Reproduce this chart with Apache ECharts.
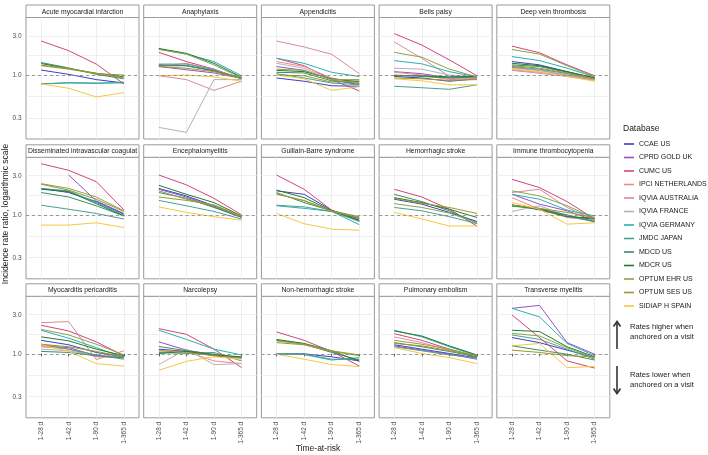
<!DOCTYPE html>
<html>
<head>
<meta charset="utf-8">
<script src="https://cdn.jsdelivr.net/npm/echarts@6/dist/echarts.min.js"></script>
<style>
  html, body { margin: 0; padding: 0; background: #fff; }
  #chart { width: 708px; height: 455px; }
</style>
</head>
<body>
<div id="chart"></div>
<script>
const databases = ['CCAE US', 'CPRD GOLD UK', 'CUMC US', 'IPCI NETHERLANDS', 'IQVIA AUSTRALIA', 'IQVIA FRANCE',
  'IQVIA GERMANY', 'JMDC JAPAN', 'MDCD US', 'MDCR US', 'OPTUM EHR US', 'OPTUM SES US', 'SIDIAP H SPAIN'];
const dbColors = ['#3b3fc4', '#9a4fc8', '#d1457e', '#f4868c', '#d88c95', '#b3b3b3',
  '#2aafb5', '#4ba08e', '#3a8f5f', '#247a2c', '#8ba24a', '#a0952a', '#f5c842'];
const timeLabels = ['1-28 d', '1-42 d', '1-90 d', '1-365 d'];
const panelTitles = ['Acute myocardial infarction', 'Anaphylaxis', 'Appendicitis', 'Bells palsy', 'Deep vein thrombosis',
  'Disseminated intravascular coagulation', 'Encephalomyelitis', 'Guillain-Barre syndrome', 'Hemorrhagic stroke', 'Immune thrombocytopenia',
  'Myocarditis pericarditis', 'Narcolepsy', 'Non-hemorrhagic stroke', 'Pulmonary embolism', 'Transverse myelitis'];
const yBreaks = [0.3, 1.0, 3.0];
const refRatio = 1;

// one row per database (legend order), null = not in panel
const acuteMI = [
  [1.15, 1.02, 0.88, 0.8], null, [2.6, 1.98, 1.36, 0.78], null, null, null,
  [0.78, 0.81, 0.8, 0.8], [0.78, 0.8, 0.79, 0.82], [1.42, 1.22, 1.02, 0.9], [1.38, 1.2, 1.05, 0.95],
  [1.32, 1.2, 1.05, 0.92], [1.3, 1.18, 1.04, 1.0], [0.78, 0.69, 0.54, 0.61]
];
const anaphylaxis = [
  [1.3, 1.3, 1.13, 0.92], [1.27, 1.16, 1.06, 0.91], [1.89, 1.46, 1.18, 0.9], [1.27, 1.39, 1.16, 0.92],
  [0.98, 0.88, 0.65, 0.84], [0.23, 0.2, 0.88, 0.88], [2.07, 1.8, 1.46, 0.98], [1.36, 1.36, 1.16, 0.9],
  [1.33, 1.3, 1.12, 0.91], [2.11, 1.84, 1.39, 0.94], [2.05, 1.8, 1.33, 0.92], [1.27, 1.21, 1.1, 0.91],
  [0.98, 1.0, 0.95, 0.84]
];
const appendicitis = [
  [0.92, 0.84, 0.74, 0.73], [1.27, 1.14, 0.88, 0.76], [1.6, 1.3, 0.88, 0.64], [1.46, 1.27, 0.92, 0.8],
  [2.6, 2.2, 1.79, 1.04], [1.39, 1.21, 0.88, 0.82], [1.6, 1.39, 1.08, 0.96], [1.04, 0.92, 0.8, 0.76],
  [1.08, 1.06, 0.85, 0.79], [1.14, 1.1, 0.9, 0.83], [1.18, 1.14, 0.88, 0.88], [1.0, 0.98, 0.82, 0.85],
  [1.0, 0.9, 0.65, 0.72]
];
const bellsPalsy = [
  [0.96, 0.92, 0.84, 0.9], [1.1, 1.04, 0.92, 0.92], [3.2, 2.32, 1.53, 0.98], [1.08, 1.0, 0.88, 0.9],
  [2.54, 1.6, 0.96, 0.95], [1.21, 1.18, 1.0, 0.95], [1.5, 1.37, 1.1, 0.95], [0.73, 0.7, 0.67, 0.76],
  [1.0, 0.96, 0.92, 0.95], [0.98, 0.98, 0.95, 0.96], [1.89, 1.65, 1.18, 0.95], [0.92, 0.9, 0.86, 0.88],
  [0.9, 0.85, 0.76, 0.76]
];
const deepVeinThrombosis = [
  [1.46, 1.33, 1.1, 0.92], [1.24, 1.14, 1.0, 0.9], [2.25, 1.87, 1.33, 0.98], [1.16, 1.08, 0.98, 0.86],
  [1.14, 1.05, 0.96, 0.88], [1.22, 1.14, 1.0, 0.9], [1.68, 1.5, 1.21, 0.95], [1.27, 1.18, 1.04, 0.9],
  [1.33, 1.27, 1.08, 0.92], [1.39, 1.3, 1.1, 0.92], [2.05, 1.8, 1.3, 0.95], [1.3, 1.21, 1.06, 0.9],
  [1.19, 1.1, 0.96, 0.84]
];
const dic = [
  [2.1, 1.87, 1.45, 1.02], [null, 3.06, 1.48, 1.04], [4.2, 3.49, 2.54, 1.15], null, null, null,
  [2.1, 1.96, 1.41, 1.0], [1.31, 1.17, 1.04, 0.89], [1.87, 1.65, 1.29, 0.97], [2.05, 1.92, 1.37, 0.97],
  [2.4, 2.1, 1.65, 1.12], [2.36, 2.0, 1.55, 1.1], [0.75, 0.75, 0.8, 0.7]
];
const encephalomyelitis = [
  [2.1, 1.7, 1.29, 0.95], [2.05, 1.65, 1.25, 0.93], [3.06, 2.32, 1.59, 1.0], null, null, null, null,
  [1.5, 1.29, 1.1, 0.89], [1.87, 1.59, 1.23, 0.93], [2.29, 1.78, 1.41, 0.97], [1.96, 1.55, 1.29, 0.95],
  [1.65, 1.5, 1.32, 0.97], [1.25, 1.07, 0.95, 0.86]
];
const guillainBarre = [
  [1.96, 1.78, 1.14, 0.85], null, [3.06, 2.05, 1.14, 0.89], null, null, null,
  [1.29, 1.2, 1.1, 0.76], [1.31, 1.25, 1.1, 0.83], [1.87, 1.41, 1.12, 0.91], [2.0, 1.62, 1.12, 0.86],
  [1.78, 1.5, 1.1, 0.93], [1.81, 1.48, 1.12, 0.95], [1.04, 0.78, 0.67, 0.65]
];
const hemorrhagicStroke = [
  [1.55, 1.35, 1.07, 0.83], null, [2.05, 1.65, 1.17, 0.73], null, null, null, null,
  [1.23, 1.12, 0.95, 0.78], [1.78, 1.45, 1.12, 0.8], [1.62, 1.41, 1.17, 0.93], [1.37, 1.23, 1.05, 0.8],
  [1.59, 1.38, 1.23, 1.04], [1.07, 0.89, 0.73, 0.73]
];
const immuneThrombocytopenia = [
  [1.32, 1.15, 0.95, 0.88], [1.78, 1.35, 1.12, 0.85], [2.71, 2.15, 1.45, 0.89], [1.62, 1.17, 0.93, 0.85],
  [1.87, 2.05, 1.23, 0.86], [1.1, 1.29, 0.97, 0.85], [1.78, 1.55, 1.14, 0.97], [1.27, 1.2, 0.97, 0.82],
  [1.29, 1.18, 1.0, 0.83], [1.32, 1.17, 0.95, 0.91], [1.96, 1.7, 1.29, 0.91], [1.31, 1.2, 1.07, 0.93],
  [1.41, 1.17, 0.77, 0.8]
];
const myocarditis = [
  [1.46, 1.29, 1.04, 0.92], [1.25, 1.19, 0.95, 0.92], [2.23, 1.9, 1.4, 0.95], [1.22, 1.14, 0.92, 0.9],
  [2.4, 2.47, 0.85, 1.09], [1.14, 1.09, 0.95, 0.9], [1.94, 1.55, 1.19, 0.9], [1.31, 1.14, 0.97, 0.86],
  [1.07, 1.04, 0.95, 0.89], [1.61, 1.44, 1.14, 0.95], [1.99, 1.7, 1.31, 0.97], [1.31, 1.22, 1.07, 0.92],
  [1.29, 1.07, 0.76, 0.71]
];
const narcolepsy = [
  [1.14, 1.07, 0.95, 0.89], [1.4, 1.11, 0.97, 0.89], [2.03, 1.73, 1.14, 0.68], [1.09, 1.07, 0.82, 0.76],
  null, [0.74, 1.14, 0.74, 0.76], [1.94, 1.5, 1.14, 0.97], [1.04, 1.01, 1.04, 0.82],
  [1.23, 1.09, 0.99, 0.9], [1.01, 1.07, 0.97, 0.92], null, [1.09, 1.04, 0.95, 0.89],
  [0.63, 0.81, 0.92, 0.86]
];
const nonHemorrhagicStroke = [
  [1.0, 1.0, 0.92, 0.82], null, [1.85, 1.46, 1.07, 0.71], null, null, null,
  [1.0, 0.98, 0.84, 0.9], [1.01, 0.99, 0.86, 0.86], [1.46, 1.31, 1.04, 0.84], [1.5, 1.34, 1.09, 0.81],
  [1.44, 1.31, 1.09, 0.97], [1.37, 1.29, 1.07, 0.95], [0.99, 0.86, 0.74, 0.7]
];
const pulmonaryEmbolism = [
  [1.29, 1.14, 1.01, 0.89], [1.25, 1.11, 0.99, 0.86], [1.76, 1.46, 1.14, 0.89], [1.61, 1.37, 1.11, 0.92],
  null, null, [1.94, 1.61, 1.22, 0.95], [1.22, 1.09, 0.97, 0.89],
  [1.37, 1.22, 1.07, 0.92], [1.9, 1.65, 1.25, 0.97], [1.46, 1.31, 1.14, 0.95], [1.34, 1.25, 1.09, 0.95],
  [1.19, 1.01, 0.9, 0.76]
];
const transverseMyelitis = [
  [1.58, 1.37, 1.11, 0.9], [3.59, 3.9, 1.37, 0.99], [2.98, 1.58, 0.82, 0.67], null, null, null,
  [3.59, 2.82, 1.34, 0.95], [1.7, 1.5, 1.14, 0.86], [1.25, 1.11, 0.99, 0.84], [1.94, 1.87, 1.22, 0.92],
  [1.78, 1.65, 1.19, 0.89], [1.11, 1.04, 0.95, 0.92], [1.25, 1.34, 0.68, 0.7]
];

const panelData = [acuteMI, anaphylaxis, appendicitis, bellsPalsy, deepVeinThrombosis,
  dic, encephalomyelitis, guillainBarre, hemorrhagicStroke, immuneThrombocytopenia,
  myocarditis, narcolepsy, nonHemorrhagicStroke, pulmonaryEmbolism, transverseMyelitis];

const FONT = '"Liberation Sans", Arial, sans-serif';
const colLeft = 26, colStep = 117.7, panelW = 113, panelH = 121.5, stripH = 12.5;
const rowTops = [17.5, 157.3, 296.3];
const yMin = Math.log10(0.166), yMax = Math.log10(5.03);

const yMajor = yBreaks.map(Math.log10);
// ggplot minor breaks sit half-way between majors on the log scale
const yGrid = yMajor.concat([(yMajor[0] + yMajor[1]) / 2, (yMajor[1] + yMajor[2]) / 2]);
const xTicks = timeLabels.map((t, i) => i);

const grids = [], xAxes = [], yAxes = [], series = [], graphics = [];

panelData.forEach((rows, p) => {
  const c = p % 5, r = Math.floor(p / 5);
  const left = colLeft + c * colStep, top = rowTops[r];

  grids.push({ left: left, top: top, width: panelW, height: panelH, show: true,
    borderColor: '#9a9a9a', borderWidth: 1, backgroundColor: 'transparent' });

  xAxes.push({
    gridIndex: p, type: 'value', min: -0.55, max: 3.55,
    axisLine: { show: false },
    axisTick: { show: r === 2, length: 2.5, customValues: xTicks, lineStyle: { color: '#333', width: 0.8 } },
    axisLabel: { show: r === 2, customValues: xTicks, rotate: 90, margin: 4, fontSize: 6.5,
      color: '#4d4d4d', fontFamily: FONT, formatter: v => timeLabels[Math.round(v)] },
    splitLine: { show: true, customValues: xTicks, lineStyle: { color: '#ebebeb', width: 0.8 } }
  });

  yAxes.push({
    gridIndex: p, type: 'value', min: yMin, max: yMax,
    axisLine: { show: false },
    axisTick: { show: false, customValues: yGrid },
    axisLabel: { show: c === 0, customValues: yMajor, margin: 4.5, fontSize: 6.5, color: '#4d4d4d',
      fontFamily: FONT, formatter: v => Math.pow(10, v).toFixed(1) },
    splitLine: { show: true, customValues: yGrid, lineStyle: { color: '#ebebeb', width: 0.8 } }
  });

  let refAdded = false;
  rows.forEach((vals, d) => {
    if (!vals) return;
    const pts = [];
    vals.forEach((v, i) => { if (v != null) pts.push([i, Math.log10(v)]); });
    const s = {
      type: 'line', name: databases[d], xAxisIndex: p, yAxisIndex: p, data: pts,
      showSymbol: false, symbol: 'none', silent: true, animation: false,
      lineStyle: { color: dbColors[d], width: 1 },
      itemStyle: { color: dbColors[d] },
      emphasis: { disabled: true }
    };
    if (!refAdded) {
      s.markLine = { silent: true, symbol: 'none', animation: false, label: { show: false },
        lineStyle: { type: [3, 3], color: '#808080', width: 0.8 },
        data: [{ yAxis: Math.log10(refRatio) }] };
      refAdded = true;
    }
    series.push(s);
  });

  // facet strip
  graphics.push({ type: 'rect', shape: { x: left, y: top - stripH, width: panelW, height: stripH },
    style: { fill: '#ffffff', stroke: '#9a9a9a', lineWidth: 1 } });
  graphics.push({ type: 'text', x: left + panelW / 2, y: top - stripH / 2 + 0.5,
    style: { text: panelTitles[p], align: 'center', verticalAlign: 'middle', width: panelW - 2,
      overflow: 'truncate', ellipsis: '', fill: '#1a1a1a', font: '6.8px ' + FONT } });
});

// axis titles
graphics.push({ type: 'text', x: 6, y: 214, rotation: Math.PI / 2,
  style: { text: 'Incidence rate ratio, logarithmic scale', align: 'center', verticalAlign: 'middle',
    fill: '#1a1a1a', font: '8.5px ' + FONT } });
graphics.push({ type: 'text', x: 318, y: 449,
  style: { text: 'Time-at-risk', align: 'center', verticalAlign: 'middle', fill: '#1a1a1a', font: '8.5px ' + FONT } });
graphics.push({ type: 'text', x: 623, y: 129,
  style: { text: 'Database', align: 'left', verticalAlign: 'middle', fill: '#1a1a1a', font: '8.5px ' + FONT } });

// direction arrows
const arrowStyle = { stroke: '#333', lineWidth: 1.6, fill: null };
graphics.push({ type: 'polyline', shape: { points: [[617, 349], [617, 322]] }, style: arrowStyle });
graphics.push({ type: 'polyline', shape: { points: [[613.5, 326.5], [617, 321.5], [620.5, 326.5]] }, style: arrowStyle });
graphics.push({ type: 'polyline', shape: { points: [[617, 366], [617, 393]] }, style: arrowStyle });
graphics.push({ type: 'polyline', shape: { points: [[613.5, 388.5], [617, 393.5], [620.5, 388.5]] }, style: arrowStyle });
graphics.push({ type: 'text', x: 630, y: 332,
  style: { text: 'Rates higher when\nanchored on a visit', verticalAlign: 'middle', lineHeight: 10,
    fill: '#1a1a1a', font: '7.6px ' + FONT } });
graphics.push({ type: 'text', x: 630, y: 380,
  style: { text: 'Rates lower when\nanchored on a visit', verticalAlign: 'middle', lineHeight: 10,
    fill: '#1a1a1a', font: '7.6px ' + FONT } });

const chart = echarts.init(document.getElementById('chart'), null, { renderer: 'canvas' });
chart.setOption({
  animation: false,
  backgroundColor: '#ffffff',
  grid: grids,
  xAxis: xAxes,
  yAxis: yAxes,
  legend: {
    data: databases, orient: 'vertical', left: 624, top: 139, padding: 0,
    itemWidth: 10, itemHeight: 1.6, itemGap: 3.5, icon: 'rect', selectedMode: false,
    textStyle: { fontSize: 7, lineHeight: 10, color: '#1a1a1a', fontFamily: FONT }
  },
  graphic: graphics,
  series: series
});
</script>
</body>
</html>
